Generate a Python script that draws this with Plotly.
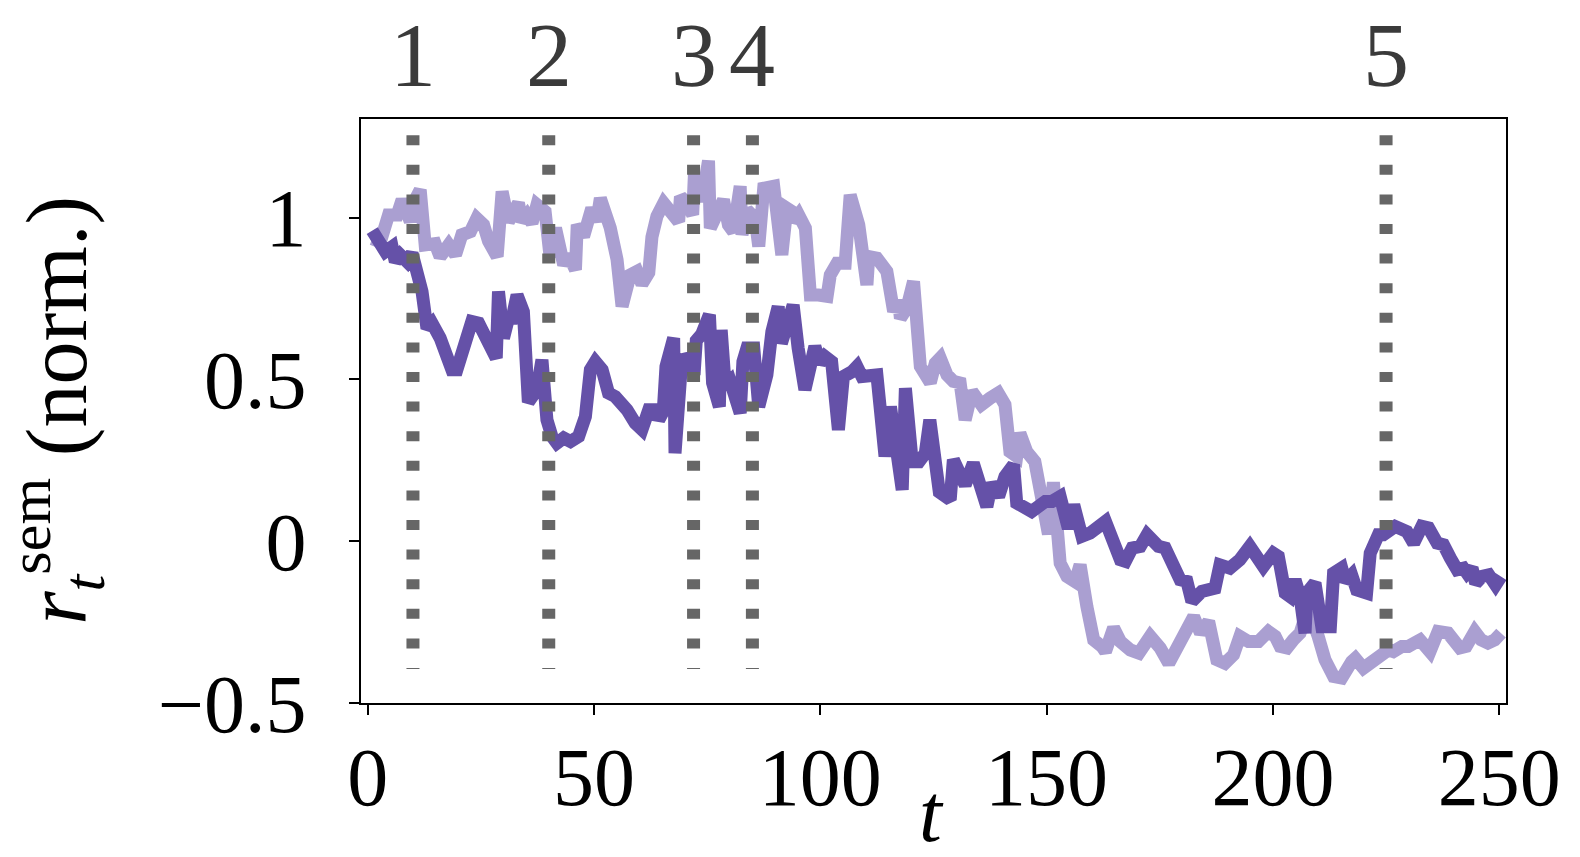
import plotly.graph_objects as go

# ── data ──────────────────────────────────────────────────────────────────────
dark_t = [1, 2.8, 3.9, 5.4, 6.1, 7.2, 8.7, 9.8, 10.9, 12, 13.1, 14.2, 16, 17.5, 18.6, 19.7,
          21.2, 23, 24.5, 26.3, 28.4, 28.9, 30, 31.1, 31.9, 33, 34.4, 35.5, 37.4, 38.5, 39.6,
          40.7, 41.8, 43.3, 44.8, 46.6, 48.1, 49.2, 50.3, 51.8, 53.2, 54.7, 56.2, 57.3, 59.1,
          60.6, 62.1, 63.9, 64.3, 65.3, 65.9, 67.6, 67.9, 69.4, 70.9, 72.1, 72.6, 73.8, 75.5,
          76.2, 77.7, 78.1, 79, 80.1, 82.3, 82.9, 83.8, 85.3, 86.4, 88.2, 89.3, 90.7, 91.4,
          94, 95.1, 96.6, 98.8, 99.9, 101, 102.5, 104, 105.1, 107, 108.1, 109.2, 111.4, 112.5,
          114.3, 115.5, 118.1, 118.8, 120.3, 121.8, 123.2, 124.2, 126.3, 128.7, 129.4, 132,
          133.8, 136.8, 137.9, 139.4, 140.8, 142.7, 143.4, 146.7, 149.7, 151.2, 153, 154.8,
          156, 157.8, 159.6, 161.1, 163, 166.3, 167.4, 168.9, 170.7, 172.2, 173.6, 174.7,
          176.2, 177.3, 179.5, 181, 182.1, 184.3, 186.1, 187.2, 188.3, 190.5, 192.7, 194.9,
          197.9, 200.1, 201.2, 202.7, 203.8, 204.9, 206, 207.1, 207.5, 209.3, 210.8, 212.7,
          213.4, 215.2, 216, 217.4, 218.5, 220.7, 221.5, 223.3, 224.4, 227, 229.6, 231.1,
          232.9, 234.4, 236.3, 237.7, 239.2, 240.7, 242.1, 242.9, 244, 244.8, 246.2, 247.7,
          249.2, 250.4]
dark_v = [0.96, 0.92, 0.895, 0.91, 0.864, 0.885, 0.864, 0.89, 0.833, 0.772, 0.658, 0.674,
          0.628, 0.576, 0.53, 0.53, 0.607, 0.679, 0.674, 0.617, 0.566, 0.772, 0.628, 0.689,
          0.689, 0.761, 0.71, 0.43, 0.468, 0.561, 0.375, 0.324, 0.303, 0.319, 0.308, 0.324,
          0.385, 0.53, 0.555, 0.53, 0.458, 0.447, 0.427, 0.406, 0.365, 0.345, 0.406, 0.406,
          0.375, 0.401, 0.54, 0.628, 0.272, 0.561, 0.566, 0.514, 0.62, 0.64, 0.70, 0.489,
          0.416, 0.653, 0.478, 0.494, 0.396, 0.555, 0.597, 0.597, 0.416, 0.514, 0.648, 0.725,
          0.612, 0.73, 0.597, 0.468, 0.602, 0.55, 0.571, 0.555, 0.344, 0.509, 0.524, 0.54,
          0.509, 0.514, 0.514, 0.262, 0.416, 0.159, 0.473, 0.246, 0.246, 0.272, 0.375, 0.152,
          0.128, 0.252, 0.174, 0.241, 0.107, 0.18, 0.138, 0.2, 0.236, 0.118, 0.092, 0.123,
          0.123, 0.138, 0.04, 0.112, 0.015, 0.025, 0.046, 0.061, -0.057, -0.062, -0.021,
          -0.016, 0.02, 0.0, -0.016, -0.021, -0.052, -0.119, -0.124, -0.186, -0.155, -0.145,
          -0.145, -0.073, -0.083, -0.057, -0.016, -0.078, -0.037, -0.047, -0.16, -0.171,
          -0.119, -0.171, -0.284, -0.16, -0.129, -0.264, -0.264, -0.099, -0.083, -0.124,
          -0.104, -0.15, -0.16, -0.037, 0.02, 0.02, 0.046, 0.03, -0.006, 0.046, 0.041, -0.006,
          -0.011, -0.052, -0.088, -0.083, -0.099, -0.083, -0.13, -0.109, -0.104, -0.135,
          -0.109]

light_t = [1, 2.8, 4.6, 6.5, 7.6, 9.4, 10.1, 11.6, 12.7, 14.9, 16, 17.9, 19.4, 20.8, 22.7,
           24.1, 25.6, 26.7, 28.6, 29.7, 31.1, 33.3, 34.1, 35.2, 36.3, 37.4, 39.2, 40.3, 41.5,
           43.3, 44.4, 45.9, 46.3, 47.7, 49.5, 50.6, 51.4, 53.6, 55.1, 55.4, 56.2, 58, 59.5,
           60.6, 62.1, 62.8, 63.9, 65.4, 67.2, 68.7, 69.1, 70.5, 71.8, 72.2, 73.8, 75.3, 75.7,
           77.1, 78.6, 79.7, 80.8, 82.3, 82.7, 83.8, 85.6, 86.4, 87.5, 89.7, 91.5, 92.6, 93.7,
           94.1, 95.2, 96.7, 97.8, 99.6, 101.5, 102.2, 103.7, 105.5, 106.6, 108.5, 110.3,
           110.7, 112.5, 114.7, 116.2, 117.3, 117.7, 119.1, 120.6, 122.1, 124.3, 125.4, 126.5,
           128, 129.4, 130.9, 132, 133.5, 135.6, 137.5, 139.3, 140.8, 141.9, 143.4, 144.1,
           145.6, 147.4, 150.4, 151.5, 153, 154.5, 156.3, 157.4, 158.9, 160.4, 162.2, 163,
           164.8, 166.3, 168.5, 170.4, 172.9, 175.1, 177, 179.2, 181, 182.5, 184, 185.8,
           187.6, 189.4, 191.3, 192.7, 194.6, 196.8, 199, 200.5, 201.6, 203.1, 204.5, 206,
           206.7, 208.2, 210, 211.5, 213.4, 215.2, 217.4, 218.2, 220, 221.5, 223.7, 225.5,
           226.6, 228.5, 229.9, 232.5, 234.7, 236.5, 238.7, 241.3, 242.7, 244.6, 246, 247.5,
           249, 250.4]
light_v = [0.935, 0.925, 1.008, 1.008, 1.055, 0.988, 1.045, 1.086, 0.916, 0.92, 0.879, 0.916,
           0.885, 0.947, 0.957, 0.998, 0.978, 0.927, 0.88, 1.081, 0.988, 1.045, 0.988, 1.008,
           0.983, 1.04, 1.019, 0.879, 0.968, 0.854, 0.885, 0.839, 0.978, 0.942, 1.029, 0.988,
           1.06, 0.968, 0.87, 0.834, 0.726, 0.823, 0.834, 0.795, 0.83, 0.94, 1.004, 1.045,
           1.019, 0.988, 1.065, 1.045, 1.009, 1.138, 1.05, 1.176, 0.968, 1.009, 1.055, 0.978,
           0.957, 1.097, 0.947, 1.024, 0.998, 0.911, 1.091, 1.097, 0.885, 1.029, 1.019, 0.988,
           1.009, 0.968, 0.761, 0.761, 0.757, 0.823, 0.859, 0.859, 1.07, 0.978, 0.792, 0.88,
           0.875, 0.834, 0.71, 0.746, 0.689, 0.72, 0.803, 0.54, 0.49, 0.55, 0.566, 0.514,
           0.494, 0.489, 0.375, 0.463, 0.422, 0.442, 0.458, 0.422, 0.277, 0.262, 0.334, 0.277,
           0.246, 0.022, 0.182, -0.068, -0.109, -0.125, -0.073, -0.202, -0.305, -0.325, -0.341,
           -0.268, -0.31, -0.336, -0.346, -0.294, -0.33, -0.377, -0.32, -0.284, -0.233, -0.284,
           -0.248, -0.366, -0.377, -0.351, -0.294, -0.31, -0.31, -0.279, -0.294, -0.325, -0.33,
           -0.305, -0.284, -0.253, -0.222, -0.294, -0.366, -0.418, -0.423, -0.372, -0.362,
           -0.392, -0.377, -0.361, -0.336, -0.341, -0.325, -0.325, -0.305, -0.341, -0.279,
           -0.284, -0.33, -0.325, -0.279, -0.305, -0.315, -0.305, -0.284]

event_t = [10, 40, 72, 85, 225]
event_labels = ["1", "2", "3", "4", "5"]

x_ticks = [0, 50, 100, 150, 200, 250]
y_ticks = [-0.5, 0, 0.5, 1]

DARK  = "#6551a8"
LIGHT = "#aa9fd1"
GREY  = "#666666"
FONT  = "Liberation Serif"

fig = go.Figure()

fig.add_trace(go.Scatter(x=light_t, y=light_v, mode="lines",
                         line=dict(color=LIGHT, width=13), showlegend=False))
fig.add_trace(go.Scatter(x=dark_t, y=dark_v, mode="lines",
                         line=dict(color=DARK, width=13), showlegend=False))

# dotted event markers, drawn top-down so the pattern starts at the top
for t in event_t:
    fig.add_trace(go.Scatter(x=[t, t], y=[1.255, -0.395], mode="lines",
                             line=dict(color=GREY, width=13, dash="10px,19.6px"),
                             showlegend=False, hoverinfo="skip"))

for t, lab in zip(event_t, event_labels):
    fig.add_annotation(x=t, xref="x", y=1.11, yref="paper", text=lab, showarrow=False,
                       xanchor="center", yanchor="middle",
                       font=dict(family=FONT, size=92, color="#3a3a3a"))

fig.add_annotation(x=-0.266, xref="paper", y=0.501, yref="paper", textangle=-90,
                   xanchor="center", yanchor="middle",
                   text="<i>r</i><sub><i>t</i></sub><sup>sem</sup> (norm.)", showarrow=False,
                   font=dict(family=FONT, size=86, color="black"))
fig.add_annotation(x=0.4986, xref="paper", y=-0.19, yref="paper", text="<i>t</i>",
                   xanchor="center", yanchor="middle",
                   showarrow=False, font=dict(family=FONT, size=82, color="black"))

axis_common = dict(showline=True, linecolor="black", linewidth=2, mirror=True,
                   ticks="outside", ticklen=10, tickwidth=2, tickcolor="black",
                   showgrid=False, zeroline=False,
                   tickfont=dict(family=FONT, size=82, color="black"))

fig.update_xaxes(range=[-1.48, 251.5], tickvals=x_ticks, ticklabelstandoff=-8, **axis_common)
fig.update_yaxes(range=[-0.5, 1.305], tickvals=y_ticks, ticklabelstandoff=26, **axis_common)

# page body adds an 8 px offset, so margins are trimmed on left/top
fig.update_layout(width=1580, height=857, paper_bgcolor="white", plot_bgcolor="white",
                  margin=dict(l=353, r=82, t=111, b=162))

fig.write_html("out.html")
